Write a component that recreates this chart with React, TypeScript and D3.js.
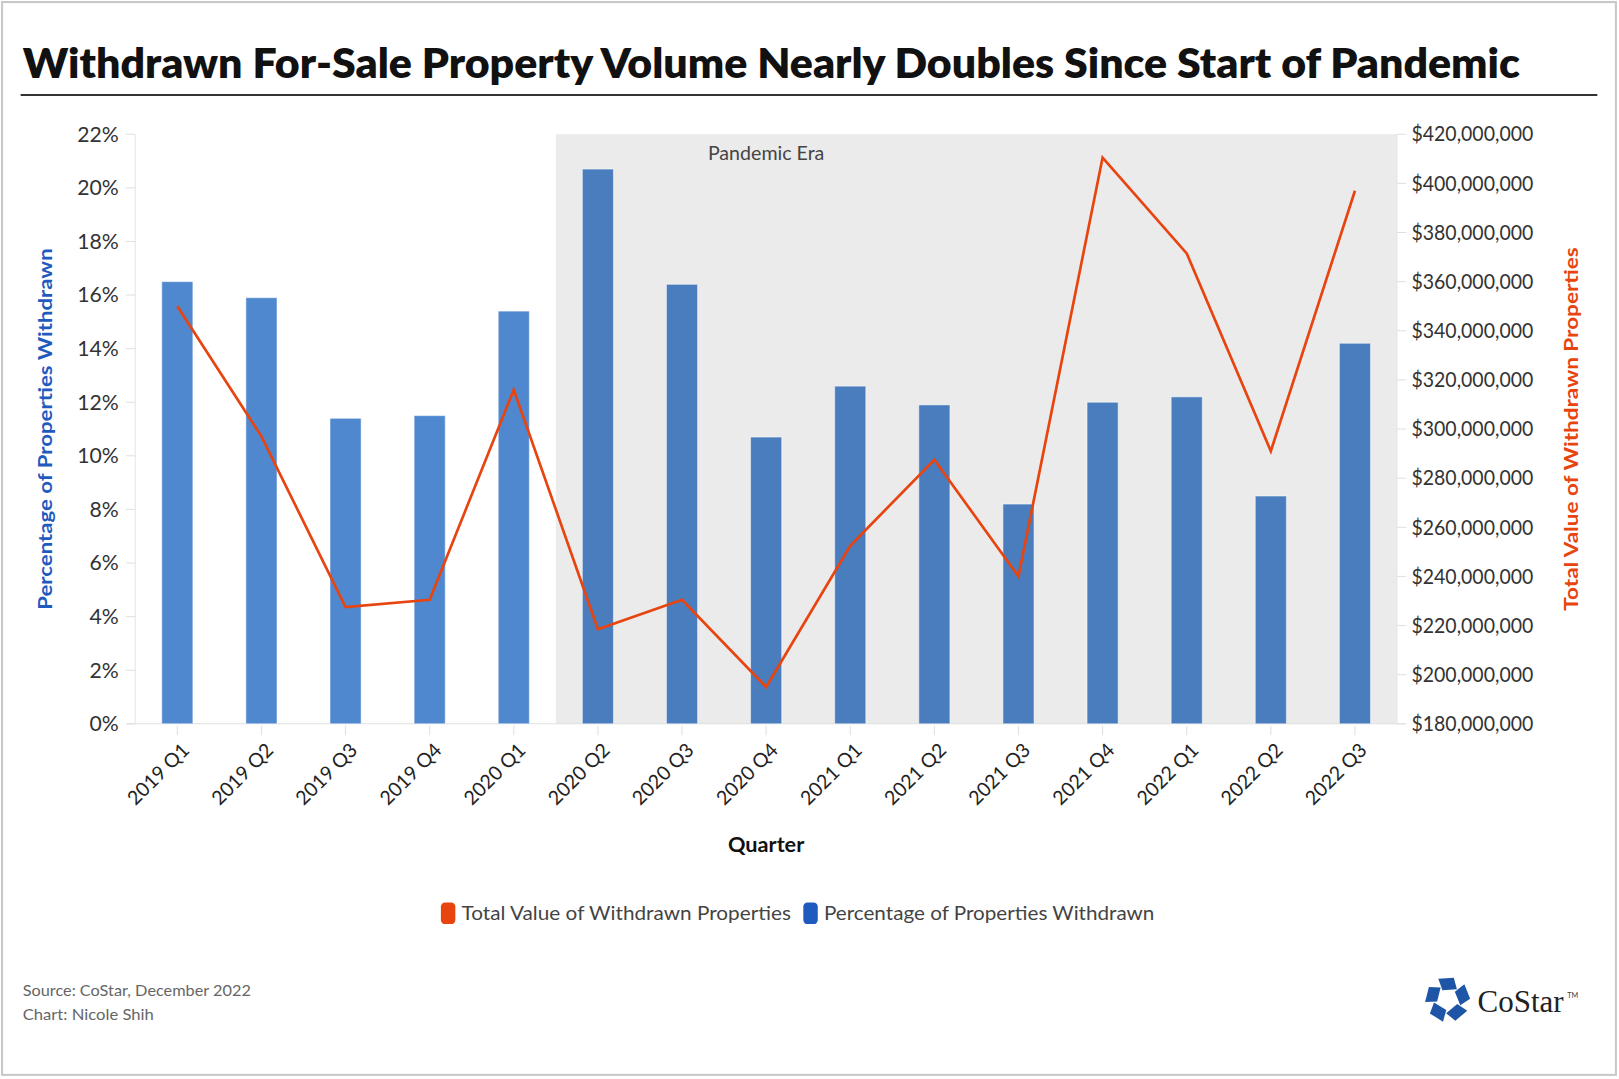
import React from 'react';
import * as d3 from 'd3';

const quarters = [
  '2019 Q1', '2019 Q2', '2019 Q3', '2019 Q4',
  '2020 Q1', '2020 Q2', '2020 Q3', '2020 Q4',
  '2021 Q1', '2021 Q2', '2021 Q3', '2021 Q4',
  '2022 Q1', '2022 Q2', '2022 Q3'
];

// percentage of properties withdrawn (left axis)
const pctWithdrawn = [16.5, 15.9, 11.4, 11.5, 15.4, 20.7, 16.4, 10.7, 12.6, 11.9, 8.2, 12.0, 12.2, 8.5, 14.2];

// total value of withdrawn properties, $ (right axis)
const totalValue = [
  350e6, 297e6, 227.5e6, 230.5e6, 316e6, 218.5e6, 230.5e6, 195e6,
  252.5e6, 287.5e6, 240e6, 410.5e6, 371.5e6, 291e6, 397e6
];

const leftTicks = [0, 2, 4, 6, 8, 10, 12, 14, 16, 18, 20, 22];
const rightTicks = d3.range(180e6, 420e6 + 1, 20e6);

const pandemicStart = '2020 Q2';

const W = 1568;
const H = 1045;
const plot = { left: 131, right: 1353, top: 130, bottom: 701 };

const FONT = 'Lato, "Noto Sans", sans-serif';
const ORANGE = '#e8440f';
const BLUE = '#1f5bbf';

const App: React.FC = () => {
  const x = d3.scaleBand<string>().domain(quarters).range([plot.left, plot.right]).padding(0);
  const yLeft = d3.scaleLinear().domain([0, 22]).range([plot.bottom, plot.top]);
  const yRight = d3.scaleLinear().domain([180e6, 420e6]).range([plot.bottom, plot.top]);

  const barW = x.bandwidth() * 0.37;
  const cx = (q: string) => (x(q) || 0) + x.bandwidth() / 2;
  const pandemicX = x(pandemicStart) || 0;
  const pandemicIdx = quarters.indexOf(pandemicStart);

  const line = d3.line<number>()
    .x((_, i) => cx(quarters[i]))
    .y(d => yRight(d));

  const fmtMoney = (v: number) => '$' + d3.format(',')(v);

  // CoStar star mark: five blocks round a pentagon
  const starPiece = 'M-9,-20 L6,-21 L9,-10 L-5,-9 Z';

  return (
    <div style={{ position: 'absolute', left: 0, top: 0 }}>
      <svg width={1619} height={1079} viewBox={`0 0 ${W} ${H}`} style={{ display: 'block', background: '#fff' }}>
        <rect x={2} y={2} width={W - 5} height={H - 6} fill="#fff" stroke="#c8c8c8" strokeWidth={2} />

        {/* title */}
        <text x={22} y={76} fontFamily={FONT} fontWeight={800} fontSize={40} fill="#111"
          textLength={1450} lengthAdjust="spacingAndGlyphs">
          Withdrawn For-Sale Property Volume Nearly Doubles Since Start of Pandemic
        </text>
        <line x1={20} x2={1547} y1={92} y2={92} stroke="#333" strokeWidth={2} />

        {/* pandemic shading */}
        <rect x={pandemicX} y={plot.top} width={plot.right - pandemicX} height={plot.bottom - plot.top} fill="#ebebeb" />
        <text x={cx(quarters[pandemicIdx + 2])} y={155} textAnchor="middle" fontFamily={FONT} fontSize={19} fill="#444">
          Pandemic Era
        </text>

        {/* axes lines */}
        <line x1={plot.left} x2={plot.left} y1={plot.top} y2={plot.bottom} stroke="#e6e6e6" />
        <line x1={plot.right} x2={plot.right} y1={plot.top} y2={plot.bottom} stroke="#e6e6e6" />
        <line x1={plot.left - 8} x2={plot.right + 8} y1={plot.bottom} y2={plot.bottom} stroke="#e0e0e0" />

        {/* left ticks */}
        {leftTicks.map(t => (
          <g key={'l' + t}>
            <line x1={plot.left - 9} x2={plot.left} y1={yLeft(t)} y2={yLeft(t)} stroke="#e0e0e0" />
            <text x={plot.left - 16} y={yLeft(t)} dy="0.35em" textAnchor="end" fontFamily={FONT} fontSize={20.5} fill="#333">
              {t}%
            </text>
          </g>
        ))}

        {/* right ticks */}
        {rightTicks.map(t => (
          <g key={'r' + t}>
            <line x1={plot.right} x2={plot.right + 9} y1={yRight(t)} y2={yRight(t)} stroke="#e0e0e0" />
            <text x={plot.right + 14} y={yRight(t)} dy="0.35em" textAnchor="start" fontFamily={FONT} fontSize={20} fill="#333"
              textLength={118} lengthAdjust="spacingAndGlyphs">
              {fmtMoney(t)}
            </text>
          </g>
        ))}

        {/* bars */}
        {pctWithdrawn.map((v, i) => (
          <rect key={'b' + i}
            x={cx(quarters[i]) - barW / 2}
            y={yLeft(v)}
            width={barW}
            height={plot.bottom - yLeft(v)}
            fill={i >= pandemicIdx ? '#4a7dbd' : '#5088cf'}
            stroke="#ffffff" strokeOpacity={0.5} strokeWidth={1}
          />
        ))}

        {/* line */}
        <path d={line(totalValue) || ''} fill="none" stroke={ORANGE} strokeWidth={2.6} strokeLinejoin="miter" />

        {/* x ticks and labels */}
        {quarters.map(q => (
          <g key={'x' + q}>
            <line x1={cx(q)} x2={cx(q)} y1={plot.bottom + 2} y2={plot.bottom + 11} stroke="#e0e0e0" />
            <text transform={`translate(${cx(q) + 8},${plot.bottom + 22}) rotate(-45)`} dy="0.35em" textAnchor="end"
              fontFamily={FONT} fontSize={19} fill="#222">
              {q}
            </text>
          </g>
        ))}

        {/* axis titles */}
        <text x={(plot.left + plot.right) / 2} y={825} textAnchor="middle" fontFamily={FONT} fontWeight={700} fontSize={21} fill="#111">
          Quarter
        </text>
        <text transform={`translate(50,${(plot.top + plot.bottom) / 2}) rotate(-90)`} textAnchor="middle"
          fontFamily={FONT} fontWeight={700} fontSize={18} fill={BLUE} textLength={350} lengthAdjust="spacingAndGlyphs">
          Percentage of Properties Withdrawn
        </text>
        <text transform={`translate(1528,${(plot.top + plot.bottom) / 2}) rotate(-90)`} textAnchor="middle"
          fontFamily={FONT} fontWeight={700} fontSize={18} fill={ORANGE} textLength={352} lengthAdjust="spacingAndGlyphs">
          Total Value of Withdrawn Properties
        </text>

        {/* legend */}
        <rect x={427} y={874} width={14} height={21} rx={4} fill={ORANGE} />
        <text x={447} y={891} fontFamily={FONT} fontSize={19} fill="#444" textLength={319} lengthAdjust="spacingAndGlyphs">
          Total Value of Withdrawn Properties
        </text>
        <rect x={778} y={874} width={14} height={21} rx={4} fill={BLUE} />
        <text x={798} y={891} fontFamily={FONT} fontSize={19} fill="#444" textLength={320} lengthAdjust="spacingAndGlyphs">
          Percentage of Properties Withdrawn
        </text>

        {/* footer */}
        <text x={22} y={965} fontFamily={FONT} fontSize={15.5} fill="#666" textLength={221} lengthAdjust="spacingAndGlyphs">
          Source: CoStar, December 2022
        </text>
        <text x={22} y={988} fontFamily={FONT} fontSize={15.5} fill="#666" textLength={127} lengthAdjust="spacingAndGlyphs">
          Chart: Nicole Shih
        </text>

        {/* logo */}
        <g transform="translate(1402,968)">
          {d3.range(5).map(i => (
            <path key={'s' + i} d={starPiece} fill="#1f55a6" transform={`rotate(${i * 72})`} />
          ))}
        </g>
        <text x={1431} y={980} fontFamily='"Liberation Serif", "DejaVu Serif", serif' fontSize={30} fill="#222">CoStar</text>
        <text x={1518} y={967} fontFamily={FONT} fontSize={7} fill="#444">TM</text>
      </svg>
    </div>
  );
};

export default App;
